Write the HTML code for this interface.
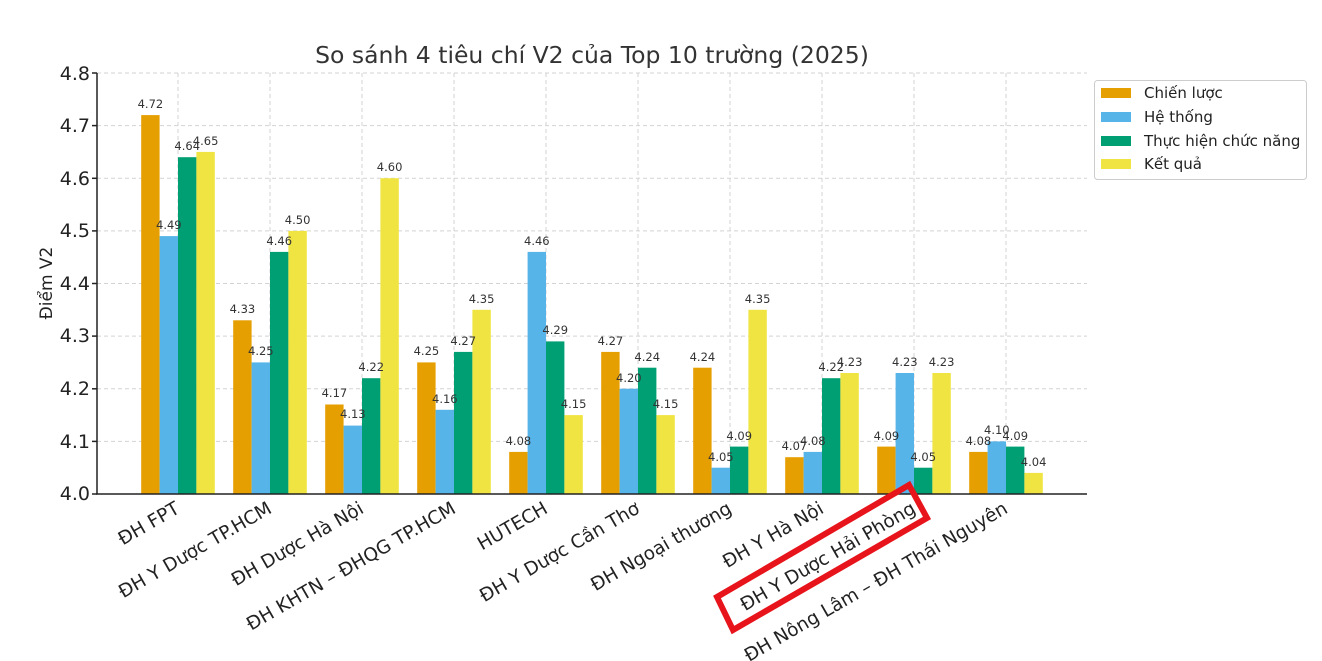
<!DOCTYPE html>
<html><head><meta charset="utf-8"><style>
body{margin:0;background:#fff}
svg{display:block;font-family:"DejaVu Sans","Liberation Sans",sans-serif}
.v{font-size:11.5px;fill:#333;text-anchor:middle}
.o{fill:#E69F00}.b{fill:#56B4E9}.g{fill:#009E73}.y{fill:#F0E442}
.t{font-size:18.5px;fill:#222;text-anchor:end}
</style></head><body>
<svg width="1322" height="661" viewBox="0 0 1322 661">
<rect width="1322" height="661" fill="#fff"/>
<g stroke="#d3d3d3" stroke-dasharray="4,3" stroke-width="1">
<line x1="97" x2="1087" y1="73" y2="73"/><line x1="97" x2="1087" y1="125.6" y2="125.6"/><line x1="97" x2="1087" y1="178.3" y2="178.3"/><line x1="97" x2="1087" y1="230.9" y2="230.9"/><line x1="97" x2="1087" y1="283.5" y2="283.5"/><line x1="97" x2="1087" y1="336.1" y2="336.1"/><line x1="97" x2="1087" y1="388.8" y2="388.8"/><line x1="97" x2="1087" y1="441.4" y2="441.4"/>
<line x1="178" x2="178" y1="73" y2="494"/><line x1="270" x2="270" y1="73" y2="494"/><line x1="362" x2="362" y1="73" y2="494"/><line x1="454" x2="454" y1="73" y2="494"/><line x1="546" x2="546" y1="73" y2="494"/><line x1="638" x2="638" y1="73" y2="494"/><line x1="730" x2="730" y1="73" y2="494"/><line x1="822" x2="822" y1="73" y2="494"/><line x1="914" x2="914" y1="73" y2="494"/><line x1="1006" x2="1006" y1="73" y2="494"/>
</g>
<g transform="translate(178,0)"><rect class="o" x="-36.8" y="115.1" width="18.4" height="378.9"/><rect class="b" x="-18.4" y="236.1" width="18.4" height="257.9"/><rect class="g" x="0" y="157.2" width="18.4" height="336.8"/><rect class="y" x="18.4" y="151.9" width="18.4" height="342.1"/>
<text class="v" x="-27.6" y="108">4.72</text><text class="v" x="-9.2" y="229">4.49</text><text class="v" x="9.2" y="150">4.64</text><text class="v" x="27.6" y="145">4.65</text></g>
<g transform="translate(270,0)"><rect class="o" x="-36.8" y="320.3" width="18.4" height="173.7"/><rect class="b" x="-18.4" y="362.4" width="18.4" height="131.6"/><rect class="g" x="0" y="251.9" width="18.4" height="242.1"/><rect class="y" x="18.4" y="230.9" width="18.4" height="263.1"/>
<text class="v" x="-27.6" y="313">4.33</text><text class="v" x="-9.2" y="355">4.25</text><text class="v" x="9.2" y="245">4.46</text><text class="v" x="27.6" y="224">4.50</text></g>
<g transform="translate(362,0)"><rect class="o" x="-36.8" y="404.5" width="18.4" height="89.5"/><rect class="b" x="-18.4" y="425.6" width="18.4" height="68.4"/><rect class="g" x="0" y="378.2" width="18.4" height="115.8"/><rect class="y" x="18.4" y="178.2" width="18.4" height="315.8"/>
<text class="v" x="-27.6" y="397">4.17</text><text class="v" x="-9.2" y="418">4.13</text><text class="v" x="9.2" y="371">4.22</text><text class="v" x="27.6" y="171">4.60</text></g>
<g transform="translate(454,0)"><rect class="o" x="-36.8" y="362.4" width="18.4" height="131.6"/><rect class="b" x="-18.4" y="409.8" width="18.4" height="84.2"/><rect class="g" x="0" y="351.9" width="18.4" height="142.1"/><rect class="y" x="18.4" y="309.8" width="18.4" height="184.2"/>
<text class="v" x="-27.6" y="355">4.25</text><text class="v" x="-9.2" y="403">4.16</text><text class="v" x="9.2" y="345">4.27</text><text class="v" x="27.6" y="303">4.35</text></g>
<g transform="translate(546,0)"><rect class="o" x="-36.8" y="451.9" width="18.4" height="42.1"/><rect class="b" x="-18.4" y="251.9" width="18.4" height="242.1"/><rect class="g" x="0" y="341.4" width="18.4" height="152.6"/><rect class="y" x="18.4" y="415.1" width="18.4" height="78.9"/>
<text class="v" x="-27.6" y="445">4.08</text><text class="v" x="-9.2" y="245">4.46</text><text class="v" x="9.2" y="334">4.29</text><text class="v" x="27.6" y="408">4.15</text></g>
<g transform="translate(638,0)"><rect class="o" x="-36.8" y="351.9" width="18.4" height="142.1"/><rect class="b" x="-18.4" y="388.7" width="18.4" height="105.3"/><rect class="g" x="0" y="367.7" width="18.4" height="126.3"/><rect class="y" x="18.4" y="415.1" width="18.4" height="78.9"/>
<text class="v" x="-27.6" y="345">4.27</text><text class="v" x="-9.2" y="382">4.20</text><text class="v" x="9.2" y="361">4.24</text><text class="v" x="27.6" y="408">4.15</text></g>
<g transform="translate(730,0)"><rect class="o" x="-36.8" y="367.7" width="18.4" height="126.3"/><rect class="b" x="-18.4" y="467.7" width="18.4" height="26.3"/><rect class="g" x="0" y="446.6" width="18.4" height="47.4"/><rect class="y" x="18.4" y="309.8" width="18.4" height="184.2"/>
<text class="v" x="-27.6" y="361">4.24</text><text class="v" x="-9.2" y="461">4.05</text><text class="v" x="9.2" y="440">4.09</text><text class="v" x="27.6" y="303">4.35</text></g>
<g transform="translate(822,0)"><rect class="o" x="-36.8" y="457.2" width="18.4" height="36.8"/><rect class="b" x="-18.4" y="451.9" width="18.4" height="42.1"/><rect class="g" x="0" y="378.2" width="18.4" height="115.8"/><rect class="y" x="18.4" y="373" width="18.4" height="121"/>
<text class="v" x="-27.6" y="450">4.07</text><text class="v" x="-9.2" y="445">4.08</text><text class="v" x="9.2" y="371">4.22</text><text class="v" x="27.6" y="366">4.23</text></g>
<g transform="translate(914,0)"><rect class="o" x="-36.8" y="446.6" width="18.4" height="47.4"/><rect class="b" x="-18.4" y="373" width="18.4" height="121"/><rect class="g" x="0" y="467.7" width="18.4" height="26.3"/><rect class="y" x="18.4" y="373" width="18.4" height="121"/>
<text class="v" x="-27.6" y="440">4.09</text><text class="v" x="-9.2" y="366">4.23</text><text class="v" x="9.2" y="461">4.05</text><text class="v" x="27.6" y="366">4.23</text></g>
<g transform="translate(1006,0)"><rect class="o" x="-36.8" y="451.9" width="18.4" height="42.1"/><rect class="b" x="-18.4" y="441.4" width="18.4" height="52.6"/><rect class="g" x="0" y="446.6" width="18.4" height="47.4"/><rect class="y" x="18.4" y="472.9" width="18.4" height="21.1"/>
<text class="v" x="-27.6" y="445">4.08</text><text class="v" x="-9.2" y="434">4.10</text><text class="v" x="9.2" y="440">4.09</text><text class="v" x="27.6" y="466">4.04</text></g>
<g stroke="#222" stroke-width="1.5">
<line x1="97" x2="97" y1="73" y2="494"/><line x1="96" x2="1087" y1="494" y2="494"/>
<line x1="92" x2="97" y1="73" y2="73"/><line x1="92" x2="97" y1="125.6" y2="125.6"/><line x1="92" x2="97" y1="178.3" y2="178.3"/><line x1="92" x2="97" y1="230.9" y2="230.9"/><line x1="92" x2="97" y1="283.5" y2="283.5"/><line x1="92" x2="97" y1="336.1" y2="336.1"/><line x1="92" x2="97" y1="388.8" y2="388.8"/><line x1="92" x2="97" y1="441.4" y2="441.4"/><line x1="92" x2="97" y1="494" y2="494"/>
</g>
<g font-size="19" fill="#222" text-anchor="end">
<text x="90" y="80">4.8</text><text x="90" y="132">4.7</text><text x="90" y="185">4.6</text><text x="90" y="237">4.5</text><text x="90" y="290">4.4</text><text x="90" y="342">4.3</text><text x="90" y="395">4.2</text><text x="90" y="448">4.1</text><text x="90" y="500">4.0</text>
</g>
<text x="52" y="283" font-size="17" fill="#222" text-anchor="middle" transform="rotate(-90 52 283)">Điểm V2</text>
<text x="592" y="63" font-size="23.5" fill="#333" text-anchor="middle">So sánh 4 tiêu chí V2 của Top 10 trường (2025)</text>
<g>
<text class="t" transform="translate(174,500) rotate(-30)" dy="0.75em">ĐH FPT</text>
<text class="t" transform="translate(266,500) rotate(-30)" dy="0.75em">ĐH Y Dược TP.HCM</text>
<text class="t" transform="translate(358,500) rotate(-30)" dy="0.75em">ĐH Dược Hà Nội</text>
<text class="t" transform="translate(450,500) rotate(-30)" dy="0.75em">ĐH KHTN – ĐHQG TP.HCM</text>
<text class="t" transform="translate(542,500) rotate(-30)" dy="0.75em">HUTECH</text>
<text class="t" transform="translate(634,500) rotate(-30)" dy="0.75em">ĐH Y Dược Cần Thơ</text>
<text class="t" transform="translate(726,500) rotate(-30)" dy="0.75em">ĐH Ngoại thương</text>
<text class="t" transform="translate(818,500) rotate(-30)" dy="0.75em">ĐH Y Hà Nội</text>
<text class="t" transform="translate(910,500) rotate(-30)" dy="0.75em">ĐH Y Dược Hải Phòng</text>
<text class="t" transform="translate(1002,500) rotate(-30)" dy="0.75em">ĐH Nông Lâm – ĐH Thái Nguyên</text>
</g>
<polygon points="717,597 733,630 927,518 909,485" fill="none" stroke="#e8141c" stroke-width="6"/>
<rect x="1094.5" y="80.5" width="212" height="99" rx="3" fill="#fff" stroke="#ccc"/>
<rect class="o" x="1101" y="88" width="30" height="10"/><text x="1144" y="98" font-size="15" fill="#222">Chiến lược</text>
<rect class="b" x="1101" y="112" width="30" height="10"/><text x="1144" y="122" font-size="15" fill="#222">Hệ thống</text>
<rect class="g" x="1101" y="136" width="30" height="10"/><text x="1144" y="146" font-size="15" fill="#222">Thực hiện chức năng</text>
<rect class="y" x="1101" y="159" width="30" height="10"/><text x="1144" y="169" font-size="15" fill="#222">Kết quả</text>
</svg>
</body></html>
